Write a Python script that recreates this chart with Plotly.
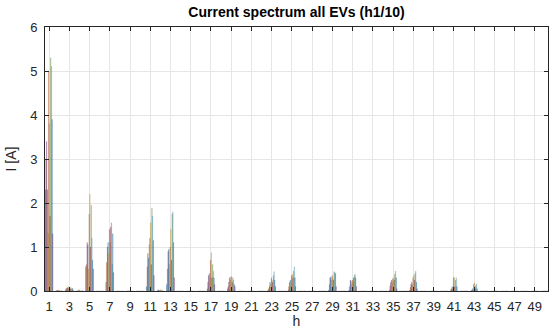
import plotly.graph_objects as go

# Harmonic orders on the x axis
harmonics = list(range(1, 51))

# Per-harmonic current amplitudes [A] for each of the 12 EVs (EV1 .. EV12).
# Harmonics not listed are treated as zero.
h1 = [2.3, 3.0, 3.4, 2.3, 1.3, 5.0, 3.8, 1.7, 5.3, 5.1, 3.9, 1.3]
h2 = [0.0, 0.0, 0.01, 0.02, 0.0, 0.02, 0.01, 0.0, 0.0, 0.01, 0.0, 0.0]
h3 = [0.03, 0.05, 0.07, 0.08, 0.1, 0.06, 0.07, 0.05, 0.08, 0.04, 0.06, 0.03]
h4 = [0.0, 0.0, 0.0, 0.01, 0.0, 0.03, 0.02, 0.0, 0.0, 0.0, 0.01, 0.0]
h5 = [0.55, 0.6, 1.1, 1.05, 0.5, 1.75, 2.2, 1.0, 1.95, 1.2, 0.7, 0.5]
h7 = [0.2, 0.65, 1.0, 1.1, 0.85, 1.4, 1.1, 1.45, 1.55, 0.6, 1.3, 0.42]
h11 = [0.1, 0.55, 0.85, 0.75, 1.05, 1.2, 1.55, 0.6, 1.88, 1.7, 1.15, 0.35]
h12 = [0.0, 0.0, 0.02, 0.03, 0.0, 0.02, 0.03, 0.0, 0.02, 0.0, 0.0, 0.0]
h13 = [0.15, 0.5, 0.9, 0.95, 0.6, 1.0, 1.4, 0.7, 1.75, 1.8, 1.1, 0.3]
h17 = [0.05, 0.2, 0.35, 0.4, 0.3, 0.7, 0.87, 0.3, 0.6, 0.45, 0.3, 0.15]
h19 = [0.05, 0.1, 0.2, 0.3, 0.25, 0.32, 0.33, 0.2, 0.3, 0.25, 0.15, 0.1]
h23 = [0.02, 0.05, 0.1, 0.2, 0.15, 0.3, 0.25, 0.2, 0.35, 0.44, 0.25, 0.1]
h25 = [0.03, 0.1, 0.2, 0.25, 0.2, 0.35, 0.38, 0.3, 0.45, 0.55, 0.3, 0.1]
h29 = [0.02, 0.15, 0.3, 0.32, 0.25, 0.35, 0.3, 0.25, 0.44, 0.42, 0.4, 0.1]
h31 = [0.02, 0.1, 0.25, 0.22, 0.15, 0.25, 0.2, 0.3, 0.35, 0.38, 0.3, 0.1]
h35 = [0.02, 0.12, 0.2, 0.25, 0.2, 0.28, 0.3, 0.25, 0.38, 0.45, 0.3, 0.05]
h37 = [0.02, 0.08, 0.15, 0.2, 0.15, 0.3, 0.35, 0.25, 0.4, 0.45, 0.2, 0.05]
h41 = [0.0, 0.03, 0.05, 0.1, 0.05, 0.3, 0.31, 0.1, 0.25, 0.3, 0.1, 0.0]
h43 = [0.0, 0.0, 0.02, 0.05, 0.02, 0.15, 0.19, 0.05, 0.12, 0.16, 0.05, 0.0]

spectrum = {1: h1, 2: h2, 3: h3, 4: h4, 5: h5, 7: h7, 11: h11, 12: h12,
            13: h13, 17: h17, 19: h19, 23: h23, 25: h25, 29: h29, 31: h31,
            35: h35, 37: h37, 41: h41, 43: h43}

ev_names = [f"EV{i}" for i in range(1, 13)]
ev_colors = ["#0072BD", "#D95319", "#7E2F8E", "#0072BD", "#EDB120", "#D95319",
             "#EDB120", "#A2142F", "#77AC30", "#4DBEEE", "#0072BD", "#7E2F8E"]

x_ticks = list(range(1, 50, 2))
y_ticks = list(range(0, 7))

fig = go.Figure()
for k, name in enumerate(ev_names):
    values = [spectrum[h][k] if h in spectrum else 0.0 for h in harmonics]
    fig.add_trace(go.Bar(
        x=harmonics, y=values, name=name,
        marker=dict(color=ev_colors[k], opacity=0.7,
                    line=dict(width=0.3, color="rgba(40,40,40,0.45)")),
    ))

axis_font = dict(family="Liberation Sans, Arial, sans-serif", size=13, color="#262626")

fig.update_layout(
    width=550, height=329,
    margin=dict(l=45, r=2, t=27, b=38),
    paper_bgcolor="white", plot_bgcolor="white",
    barmode="group", bargap=0.2, bargroupgap=0,
    showlegend=False,
    font=axis_font,
    title=dict(text="<b>Current spectrum all EVs (h1/10)</b>",
               x=0.5, xref="paper", xanchor="center",
               y=1 - 12 / 329, yanchor="middle",
               font=dict(family="Liberation Sans, Arial, sans-serif", size=14, color="#000000")),
)

fig.update_xaxes(
    range=[0.6, 50.3], tickmode="array", tickvals=x_ticks,
    ticks="inside", ticklen=4, tickcolor="#262626", tickwidth=1,
    showline=True, linecolor="#262626", linewidth=1, mirror="ticks",
    showgrid=True, gridcolor="#e6e6e6", gridwidth=1, zeroline=False,
    ticklabelstandoff=3,
    title=dict(text="h", standoff=1, font=dict(size=14, color="#262626")),
    tickfont=axis_font,
)
fig.update_yaxes(
    range=[0, 6], tickmode="array", tickvals=y_ticks,
    ticks="inside", ticklen=4, tickcolor="#262626", tickwidth=1,
    showline=True, linecolor="#262626", linewidth=1, mirror="ticks",
    showgrid=True, gridcolor="#e6e6e6", gridwidth=1, zeroline=False,
    ticklabelstandoff=4,
    title=dict(text="I [A]", standoff=10, font=dict(size=14, color="#262626")),
    tickfont=axis_font,
)

fig.write_html("out.html")
